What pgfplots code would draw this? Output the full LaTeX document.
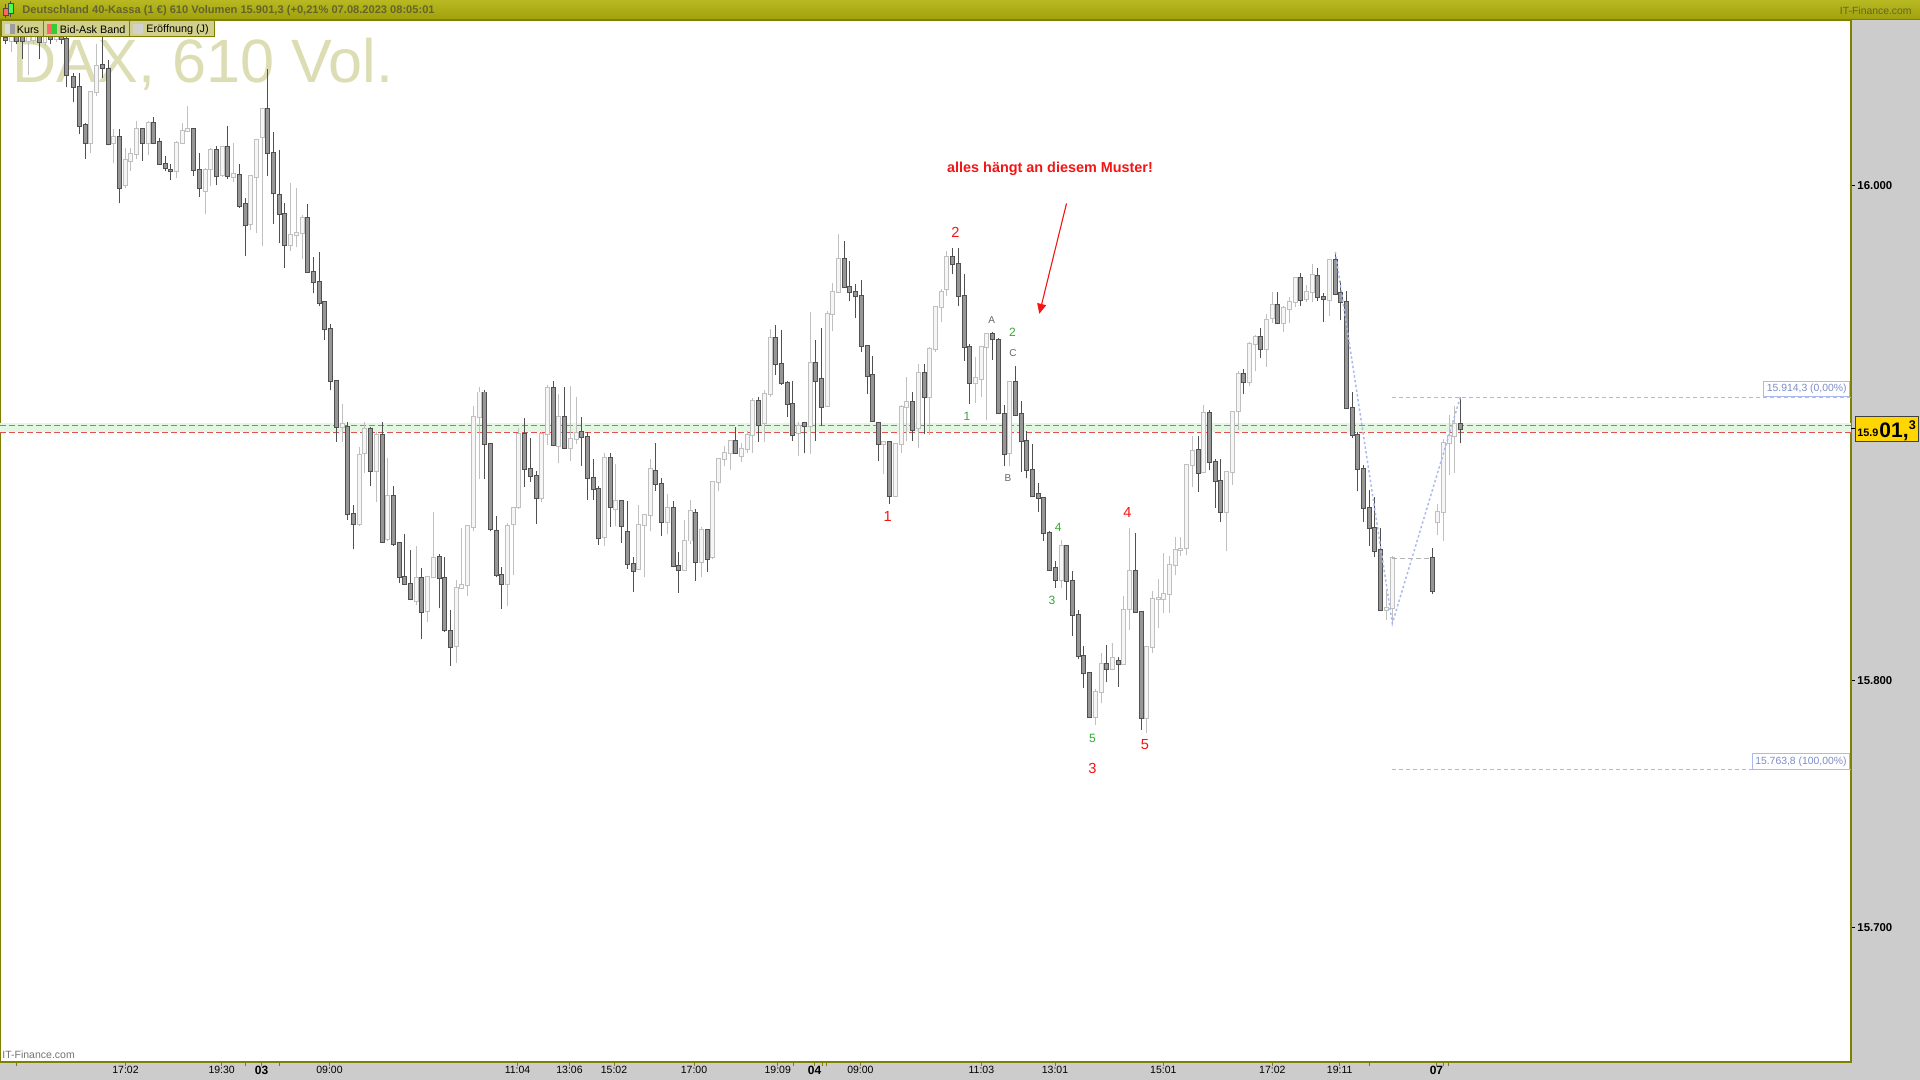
\documentclass[border=0pt]{standalone}
\usepackage{fontspec}
\setmainfont{Liberation Sans}
\usepackage{pgfplots}
\pgfplotsset{compat=1.18}
\usepackage{pgfplotstable}
\usetikzlibrary{arrows.meta}

\definecolor{titletop}{RGB}{184,184,34}
\definecolor{titlebot}{RGB}{160,160,10}
\definecolor{oliveline}{RGB}{128,128,0}
\definecolor{titletext}{RGB}{100,100,45}
\definecolor{tabfill}{RGB}{208,208,140}
\definecolor{panelgray}{RGB}{204,204,204}
\definecolor{wmark}{RGB}{221,221,180}
\definecolor{dnfill}{RGB}{150,150,150}
\definecolor{dnline}{RGB}{80,80,80}
\definecolor{upfill}{RGB}{246,246,246}
\definecolor{upline}{RGB}{192,192,192}
\definecolor{fibo}{RGB}{170,185,240}
\definecolor{fibotext}{RGB}{125,140,200}
\definecolor{askgreen}{RGB}{60,190,60}
\definecolor{bidred}{RGB}{225,80,80}
\definecolor{bandgreen}{RGB}{226,246,226}
\definecolor{lblgreen}{RGB}{50,170,50}
\definecolor{lblred}{RGB}{245,20,20}
\definecolor{pricebox}{RGB}{255,214,0}

\newcommand{\fs}[1]{\fontsize{#1}{#1}\selectfont}

\pgfplotsset{
  candlepart/.style n args={2}{only marks, mark=*, mark size=0pt,
    mark options={draw=none, fill=none}, forget plot,
    error bars/.cd, y dir=plus, y explicit, error mark=none,
    error bar style={draw=#1, line width=#2, solid}},
}

% x = bar position, o/h/l/c = open, high, low, close
\pgfplotstableread{
x o h l c
5.3 16059.5 16061 16057 16058.5
16.7 16060 16062 16057 16058.2
22.3 16060 16061 16050.9 16058.2
39.3 16062 16063 16050.9 16058
50.7 16062 16064 16057 16059
61.7 16063 16065 16057 16059
66.7 16059.0 16060.0 16039.5 16044.6
73.3 16043.7 16045.4 16033.5 16039.5
79.3 16039.5 16045.4 16020.8 16023.7
85.3 16024.2 16025.1 16010.6 16016.9
102.3 16048.5 16059.9 16043.4 16047.5
108.3 16047.1 16050.5 16016.0 16016.4
119.3 16019.3 16022.8 15992.6 15999.0
142.3 16022.8 16022.8 16009.9 16017.2
153.3 16025.1 16027.6 16016.4 16017.1
159.3 16017.4 16019.1 16008.1 16008.6
165.3 16008.6 16011.8 16005.8 16006.9
170.7 16006.2 16008.6 16002.1 16005.8
193.3 16022.5 16023.0 16003.8 16006.0
199.3 16006.0 16013.1 15995.3 15998.7
216.3 16014.0 16015.7 15999.9 16003.6
227.3 16015.4 16023.7 16002.4 16003.6
239.3 16004.0 16008.4 15990.7 15991.5
245.3 15992.2 15994.9 15971.2 15983.7
267.3 16030.7 16047.1 16003.5 16013.1
273.3 16013.1 16021.6 15984.2 15996.7
279.3 15995.8 16014.0 15976.6 15988.5
284.3 15988.5 15992.7 15966.7 15975.7
307.3 15986.6 15992.4 15964.7 15964.7
313.3 15964.7 15971.0 15956.2 15960.8
319.3 15960.8 15973.0 15951.1 15952.3
324.3 15952.6 15952.6 15937.5 15941.7
330.3 15941.7 15944.0 15917.1 15921.0
336.3 15921.0 15921.0 15896.4 15902.3
347.3 15902.3 15904.4 15864.7 15867.0
353.3 15867.0 15870.9 15852.8 15863.0
370.3 15901.5 15902.3 15878.5 15884.5
382.3 15898.9 15904.4 15855.4 15855.9
393.3 15874.3 15878.3 15854.2 15855.0
399.3 15855.4 15855.9 15839.2 15841.5
404.3 15841.5 15858.9 15838.9 15838.9
410.3 15838.9 15852.5 15832.6 15832.6
421.3 15841.1 15845.4 15816.5 15827.5
439.3 15849.6 15850.8 15829.0 15841.1
444.3 15841.1 15849.6 15819.4 15820.2
450.3 15819.9 15828.4 15805.7 15813.4
484.3 15916.2 15917.4 15881.1 15895.3
490.3 15895.3 15895.3 15860.1 15861.0
496.3 15860.1 15866.4 15841.5 15842.3
501.3 15842.3 15845.7 15828.7 15838.9
524.3 15899.6 15906.0 15878.0 15885.3
530.3 15885.3 15897.9 15880.2 15882.6
536.3 15882.6 15884.5 15863.0 15873.4
553.3 15917.9 15920.8 15894.5 15895.0
564.3 15906.4 15918.3 15893.3 15893.8
581.3 15900.1 15906.4 15886.5 15898.4
587.3 15898.1 15900.1 15872.6 15881.7
593.3 15881.7 15889.4 15872.6 15877.2
598.3 15877.2 15878.3 15854.5 15857.3
610.3 15889.6 15891.6 15861.9 15869.8
621.3 15872.4 15872.4 15855.5 15862.2
627.3 15859.8 15872.4 15844.9 15846.9
633.3 15846.9 15849.6 15835.5 15844.0
655.3 15884.5 15895.8 15876.6 15879.2
661.3 15879.2 15881.7 15858.4 15863.9
673.3 15869.5 15872.4 15845.7 15846.0
678.3 15846.0 15851.6 15835.2 15844.5
695.3 15867.4 15869.0 15840.1 15847.9
707.3 15860.5 15861.0 15843.5 15849.1
735.3 15896.7 15902.3 15891.6 15891.6
758.3 15912.8 15914.2 15896.4 15903.0
775.3 15938.3 15943.4 15923.4 15927.6
781.3 15927.6 15941.4 15919.3 15920.0
787.3 15920.2 15920.8 15906.5 15911.5
792.3 15911.5 15920.8 15896.7 15898.9
804.3 15903.8 15903.8 15891.6 15902.6
815.3 15928.1 15937.5 15896.7 15921.0
821.3 15921.7 15942.3 15902.6 15910.3
844.3 15970.1 15977.4 15958.7 15958.7
849.3 15958.7 15969.5 15953.1 15957.0
855.3 15957.0 15959.9 15946.5 15955.0
861.3 15955.0 15961.6 15932.7 15934.9
867.3 15934.9 15934.9 15915.7 15923.0
872.3 15923.4 15931.0 15904.7 15904.7
878.3 15904.0 15904.4 15888.5 15895.3
889.3 15896.1 15896.7 15871.2 15874.3
912.3 15912.3 15916.2 15896.7 15901.0
924.3 15924.2 15927.6 15899.3 15914.2
952.3 15971.0 15974.6 15963.9 15968.1
958.3 15968.1 15974.6 15951.1 15955.0
964.3 15955.0 15963.9 15929.0 15934.4
969.3 15934.4 15935.8 15911.5 15920.0
992.3 15939.7 15940.6 15929.3 15937.8
998.3 15937.5 15938.3 15907.4 15908.1
1004.3 15907.7 15911.1 15886.5 15891.3
1015.3 15920.3 15927.1 15907.0 15907.3
1021.3 15907.5 15912.9 15884.1 15896.5
1026.3 15896.5 15900.6 15881.5 15884.9
1032.3 15884.9 15895.4 15873.9 15874.4
1038.3 15875.0 15879.5 15867.9 15873.5
1043.3 15873.5 15873.5 15856.3 15859.4
1049.3 15859.4 15860.3 15844.1 15844.6
1055.3 15845.3 15848.0 15837.3 15840.4
1066.3 15854.3 15854.3 15832.2 15839.9
1072.3 15839.9 15844.1 15817.8 15826.3
1078.3 15826.3 15828.3 15808.4 15809.6
1083.3 15809.6 15813.9 15796.9 15802.8
1089.3 15802.8 15803.3 15784.6 15785.1
1106.3 15806.4 15814.0 15799.1 15804.5
1118.3 15807.6 15809.3 15797.4 15806.4
1135.3 15844.1 15859.4 15827.6 15827.6
1141.3 15827.4 15827.9 15779.9 15784.6
1198.3 15893.1 15898.8 15876.1 15883.7
1209.3 15907.9 15909.0 15884.9 15888.3
1215.3 15888.3 15889.2 15869.6 15880.3
1220.3 15880.6 15889.2 15863.7 15867.9
1243.3 15923.5 15925.7 15915.5 15920.3
1260.3 15938.5 15942.2 15930.3 15933.7
1277.3 15951.7 15956.8 15944.4 15944.4
1300.3 15962.3 15964.5 15951.2 15953.5
1317.3 15963.4 15966.5 15953.3 15954.6
1323.3 15954.6 15956.3 15944.8 15953.9
1335.3 15969.6 15973.0 15955.5 15956.0
1340.3 15956.3 15961.1 15945.3 15952.6
1346.3 15952.6 15957.1 15909.6 15909.9
1352.3 15909.9 15916.4 15898.0 15899.0
1357.3 15899.0 15900.2 15876.4 15885.4
1363.3 15885.4 15886.9 15863.7 15869.6
1369.3 15869.6 15876.7 15854.3 15861.6
1374.3 15861.4 15873.9 15849.7 15852.1
1380.3 15852.6 15861.4 15828.3 15828.3
1432.3 15849.2 15853.5 15834.8 15835.9
1460.3 15903.6 15914.3 15895.6 15901.3
}\dn

\pgfplotstableread{
x o h l c
11.3 16058.2 16061 16053.6 16060
28.3 16058.2 16061 16044.6 16060
33.3 16058.5 16062 16057 16061
45.0 16058 16064 16056 16062
56.3 16059 16065 16058 16063
90.3 16016.9 16037.8 16013.1 16037.8
96.3 16037.8 16057.0 16035.8 16048.0
113.3 16016.9 16022.5 16008.9 16019.6
125.3 15999.9 16014.8 15999.0 16010.1
130.3 16009.9 16014.8 16005.8 16012.5
136.3 16012.5 16025.9 16010.6 16022.5
148.3 16017.2 16025.9 16012.3 16025.1
176.3 16005.5 16017.9 16002.9 16017.1
182.3 16016.9 16025.1 16016.9 16021.7
187.3 16021.7 16031.8 16021.7 16022.7
205.3 15997.8 16006.9 15988.2 16006.0
210.3 16006.5 16014.8 15999.5 16014.0
222.3 16004.0 16015.7 16003.3 16015.4
233.3 16003.3 16016.9 16001.2 16004.3
250.3 15984.2 16003.8 15982.0 16003.5
256.3 16003.3 16018.2 15980.5 16018.2
262.3 16019.4 16030.7 15975.2 16030.7
290.3 15975.7 16000.9 15973.5 15979.7
296.3 15979.7 15998.7 15974.9 15980.5
302.3 15980.5 15988.0 15970.3 15986.6
342.3 15902.3 15911.7 15896.4 15903.5
359.3 15863.0 15894.2 15862.2 15891.1
364.3 15891.6 15904.4 15883.6 15901.5
376.3 15884.5 15900.1 15872.0 15898.9
387.3 15857.1 15889.6 15856.2 15874.3
416.3 15831.8 15854.2 15830.4 15841.1
427.3 15827.9 15841.5 15823.6 15841.5
433.3 15841.5 15867.8 15841.5 15849.4
456.3 15813.7 15840.6 15807.1 15837.2
461.3 15837.2 15861.5 15837.2 15838.4
467.3 15838.4 15862.2 15834.1 15862.2
473.3 15861.9 15910.8 15860.1 15906.4
479.3 15906.4 15918.5 15881.4 15916.2
507.3 15838.9 15863.5 15829.9 15862.2
513.3 15863.0 15869.8 15842.6 15869.5
518.3 15869.8 15901.8 15869.0 15899.3
541.3 15873.4 15900.1 15872.0 15899.3
547.3 15899.3 15919.1 15895.0 15917.9
558.3 15894.5 15915.4 15887.7 15906.4
570.3 15893.8 15918.8 15888.7 15897.5
576.3 15897.5 15914.5 15895.5 15899.8
604.3 15857.9 15891.6 15854.2 15889.6
615.3 15869.0 15887.4 15862.2 15872.4
638.3 15844.9 15870.9 15844.9 15862.7
644.3 15862.7 15867.0 15841.5 15866.6
650.3 15866.6 15889.4 15860.1 15885.3
667.3 15863.9 15875.1 15858.9 15869.5
684.3 15844.5 15864.7 15844.5 15856.4
690.3 15856.4 15872.9 15855.0 15868.3
701.3 15847.9 15861.9 15841.5 15860.5
712.3 15849.6 15880.0 15848.8 15880.0
718.3 15880.0 15889.9 15876.3 15889.4
724.3 15889.4 15894.7 15886.5 15891.6
730.3 15891.6 15896.7 15884.8 15896.7
741.3 15890.4 15895.8 15888.2 15893.3
747.3 15893.3 15900.6 15891.6 15898.9
752.3 15898.9 15914.0 15891.9 15912.8
764.3 15903.8 15917.1 15896.4 15915.7
770.3 15915.7 15941.7 15914.5 15938.3
798.3 15899.8 15904.4 15890.4 15902.6
810.3 15902.6 15948.9 15891.3 15928.1
827.3 15910.8 15949.0 15910.8 15948.0
832.3 15948.0 15960.4 15940.9 15957.0
838.3 15957.0 15980.3 15956.2 15970.1
883.3 15895.3 15896.1 15883.1 15896.1
895.3 15874.3 15895.3 15874.3 15895.3
901.3 15895.3 15911.1 15891.9 15910.3
906.3 15910.3 15922.5 15896.7 15912.3
918.3 15901.8 15927.6 15893.6 15924.2
929.3 15914.2 15934.4 15898.9 15933.6
935.3 15933.6 15951.1 15932.4 15950.6
941.3 15950.6 15958.2 15944.6 15957.0
946.3 15957.9 15973.2 15955.0 15971.0
975.3 15920.0 15930.7 15912.0 15921.9
981.3 15921.7 15934.9 15914.2 15934.4
986.3 15934.4 15940.0 15904.9 15939.7
1009.3 15891.6 15920.8 15886.5 15920.5
1061.3 15840.4 15856.8 15837.3 15854.3
1095.3 15785.1 15796.5 15781.7 15795.1
1101.3 15795.1 15811.0 15790.6 15806.4
1112.3 15804.5 15814.9 15804.2 15808.9
1123.3 15806.4 15833.9 15806.4 15828.5
1129.3 15828.8 15861.6 15820.3 15844.1
1146.3 15784.6 15813.5 15778.7 15813.5
1152.3 15813.5 15835.9 15811.0 15832.7
1158.3 15832.7 15840.7 15821.2 15833.0
1163.3 15832.7 15851.2 15827.1 15834.8
1169.3 15834.8 15850.0 15827.1 15846.7
1175.3 15846.7 15858.0 15842.4 15852.6
1180.3 15852.6 15858.0 15850.1 15853.0
1186.3 15853.5 15887.5 15850.4 15886.9
1192.3 15886.9 15898.5 15878.1 15892.5
1203.3 15884.1 15911.3 15884.1 15907.9
1226.3 15867.9 15884.4 15852.1 15884.1
1232.3 15884.1 15908.7 15878.9 15908.4
1238.3 15908.7 15924.9 15901.1 15923.5
1249.3 15920.3 15936.8 15918.9 15935.6
1255.3 15935.6 15939.3 15924.9 15938.5
1266.3 15933.7 15948.1 15926.6 15945.3
1272.3 15946.1 15956.8 15944.4 15951.7
1283.3 15944.4 15951.2 15940.7 15950.4
1289.3 15949.9 15954.6 15944.4 15952.6
1295.3 15952.6 15962.3 15950.9 15962.3
1306.3 15953.8 15959.7 15952.9 15956.7
1312.3 15956.7 15968.2 15952.9 15963.8
1329.3 15953.4 15969.6 15947.3 15969.6
1386.3 15828.3 15836.4 15824.2 15829.3
1392.3 15829.1 15850.1 15822.9 15849.2
1437.3 15863.7 15871.3 15858.6 15867.9
1443.3 15867.9 15897.6 15856.3 15895.6
1449.3 15895.6 15907.3 15882.9 15898.5
1454.3 15898.5 15910.7 15883.6 15903.6
}\up

\begin{document}
\begin{tikzpicture}
% ---------- background chrome (image pixel coordinates, y down) ----------
\begin{scope}[x=0.5pt,y=-0.5pt]
  \fill[panelgray] (0,0) rectangle (1920,1080);
  \fill[white] (0,20) rectangle (1851,1062);
  \node[text=wmark, anchor=base west, inner sep=0pt, font=\fs{30.6pt}] at (12,83) {DAX, 610 Vol.};
  \node[text=black!55, anchor=base west, inner sep=0pt, font=\fs{5.25pt}] at (2,1058) {IT-Finance.com};
\end{scope}

\begin{axis}[
  at={(0pt,-531pt)}, anchor=south west,
  scale only axis, width=925.5pt, height=521pt,
  xmin=0, xmax=1851, ymin=15645.7, ymax=16066.7,
  axis line style={draw=oliveline, line width=0.6pt},
  xtick={16.5,125.5,221.7,245,261.5,279,329.5,517.5,569.5,614,694,777.7,793,814.5,822,826.7,860.4,981.4,1055,1163.3,1272.3,1339.7,1369,1436.4,1443.8,1448.7},
  xticklabels={,17:02,19:30,,\textbf{\fs{6pt}03},,09:00,11:04,13:06,15:02,17:00,19:09,,\textbf{\fs{6pt}04},,,09:00,11:03,13:01,15:01,17:02,19:11,,\textbf{\fs{6pt}07},,},
  ytick={15700,15800,16000},
  yticklabels={15.700,15.800,16.000},
  xtick pos=left, ytick pos=right, yticklabel pos=right,
  tick align=outside, major tick length=2pt,
  x tick style={draw=oliveline, line width=0.5pt},
  y tick style={draw=black, line width=0.5pt},
  xticklabel style={font=\fs{5.25pt}, inner sep=0pt, text=black},
  yticklabel style={font=\bfseries\fs{5.7pt}, inner sep=1pt, anchor=west, text=black},
]
% bid/ask band
\fill[bandgreen] (axis cs:0,15900.1) rectangle (axis cs:1851,15903.7);
\addplot[askgreen, line width=0.5pt, dash pattern=on 3pt off 1.5pt, forget plot] coordinates {(0,15902.7) (1851,15902.7)};
\addplot[bidred, line width=0.4pt, dash pattern=on 3pt off 1.5pt, forget plot] coordinates {(0,15900.1) (1851,15900.1)};

% ---- wicks ----
\addplot[candlepart={upline}{0.5pt}] table[x=x, y=l, y error plus expr=\thisrow{h}-\thisrow{l}]{\up};
\addplot[candlepart={dnline}{0.5pt}] table[x=x, y=l, y error plus expr=\thisrow{h}-\thisrow{l}]{\dn};
% ---- bodies: outline ----
\addplot[candlepart={upline}{2.4pt}] table[x=x, y expr=\thisrow{o}-0.4, y error plus expr=\thisrow{c}-\thisrow{o}+0.8]{\up};
\addplot[candlepart={dnline}{2.4pt}] table[x=x, y expr=\thisrow{c}-0.4, y error plus expr=\thisrow{o}-\thisrow{c}+0.8]{\dn};
% ---- bodies: fill ----
\addplot[candlepart={upfill}{1.4pt}] table[x=x, y=o, y error plus expr=\thisrow{c}-\thisrow{o}]{\up};
\addplot[candlepart={dnfill}{1.4pt}] table[x=x, y=c, y error plus expr=\thisrow{o}-\thisrow{c}]{\dn};

% Eroeffnung gap line
\addplot[black!30, line width=0.5pt, dash pattern=on 2.5pt off 1.5pt, forget plot] coordinates {(1392.3,15849.2) (1432.3,15849.2)};
% fibonacci lines
\addplot[fibo, line width=0.5pt, dash pattern=on 2pt off 1.5pt, forget plot] coordinates {(1392,15914.3) (1851,15914.3)};
\addplot[fibo, line width=0.5pt, dash pattern=on 2pt off 1.5pt, forget plot] coordinates {(1392,15763.8) (1851,15763.8)};
\addplot[fibo, line width=0.75pt, dash pattern=on 1.2pt off 1.2pt, forget plot] coordinates {(1335.3,15973.0) (1392.3,15822.9) (1460.3,15914.3)};
\node[draw=fibo, fill=white, text=fibotext, font=\fs{5.2pt}, inner xsep=1.5pt, inner ysep=1.5pt, anchor=south east, line width=0.4pt] at (axis cs:1850,15914.3) {15.914,3 (0,00\%)};
\node[draw=fibo, fill=white, text=fibotext, font=\fs{5.2pt}, inner xsep=1.5pt, inner ysep=1.5pt, anchor=south east, line width=0.4pt] at (axis cs:1850,15763.8) {15.763,8 (100,00\%)};

% annotations
\node[text=lblred, font=\bfseries\fs{7.2pt}] at (axis cs:1050,16006.7) {alles hängt an diesem Muster!};
\draw[lblred, line width=0.55pt, -{Triangle[length=5pt,width=4.5pt]}] (axis cs:1066.5,15992.6) -- (axis cs:1039.3,15948.0);
\node[text=lblred, font=\fs{7.3pt}] at (axis cs:955.5,15980.7) {2};
\node[text=lblred, font=\fs{7.3pt}] at (axis cs:887.7,15866.0) {1};
\node[text=lblred, font=\fs{7.3pt}] at (axis cs:1092.5,15764.1) {3};
\node[text=lblred, font=\fs{7.3pt}] at (axis cs:1127.5,15867.9) {4};
\node[text=lblred, font=\fs{7.3pt}] at (axis cs:1144.8,15774.1) {5};
\node[text=lblgreen, font=\fs{6pt}] at (axis cs:967,15906.4) {1};
\node[text=lblgreen, font=\fs{6pt}] at (axis cs:1012.5,15940.7) {2};
\node[text=lblgreen, font=\fs{6pt}] at (axis cs:1052,15832.4) {3};
\node[text=lblgreen, font=\fs{6pt}] at (axis cs:1058.2,15861.8) {4};
\node[text=lblgreen, font=\fs{6pt}] at (axis cs:1092.5,15776.6) {5};
\node[text=black!60, font=\fs{5pt}] at (axis cs:991.6,15945.3) {A};
\node[text=black!60, font=\fs{5pt}] at (axis cs:1008,15881.8) {B};
\node[text=black!60, font=\fs{5pt}] at (axis cs:1013,15932.3) {C};
\end{axis}

% ---------- foreground chrome ----------
\begin{scope}[x=0.5pt,y=-0.5pt]
  % title bar
  \shade[top color=titletop, bottom color=titlebot] (0,0) rectangle (1920,20);
  \draw[oliveline, line width=0.6pt] (0,19.7) -- (1920,19.7);
  \draw[black!70, line width=0.4pt] (5.5,4) -- (5.5,18);
  \filldraw[fill=red!60, draw=black!70, line width=0.4pt] (3,8) rectangle (8,15);
  \draw[black!70, line width=0.4pt] (10.5,1) -- (10.5,17);
  \filldraw[fill=green!70, draw=black!70, line width=0.4pt] (8.5,3) rectangle (13,13);
  \node[anchor=west, inner sep=0pt, text=titletext, font=\bfseries\fs{5.55pt}] at (22,10.5) {Deutschland 40-Kassa (1 €) 610 Volumen 15.901,3 (+0,21\% 07.08.2023 08:05:01};
  \node[anchor=east, inner sep=0pt, text=titletext, font=\fs{5.2pt}] at (1912,11) {IT-Finance.com};
  % legend tabs
  \filldraw[fill=tabfill, draw=oliveline, line width=0.5pt] (1,21) rectangle (43,37);
  \filldraw[fill=tabfill, draw=oliveline, line width=0.5pt] (43,21) rectangle (129.5,37);
  \filldraw[fill=tabfill, draw=oliveline, line width=0.5pt] (129.5,21) rectangle (214,37);
  \fill[black!14] (5,24) rectangle (10,34);
  \fill[black!38] (10,24) rectangle (15,34);
  \node[anchor=west, inner sep=0pt, font=\fs{5.4pt}] at (16.5,29.5) {Kurs};
  \fill[red!60] (47,24) rectangle (52,34);
  \fill[green!75!black!80] (52,24) rectangle (57,34);
  \node[anchor=west, inner sep=0pt, font=\fs{5.4pt}] at (59.5,29.5) {Bid-Ask Band};
  \fill[black!18] (133,24) rectangle (143,34);
  \node[anchor=west, inner sep=0pt, font=\fs{5.4pt}] at (146,29.5) {Eröffnung (J)};
  % current price box
  \draw[black, line width=0.5pt] (1851,428.3) -- (1856,428.3);
  \filldraw[fill=pricebox, draw=black!75, line width=0.5pt] (1855,416) rectangle (1918,441);
  \node[anchor=base west, inner sep=0pt, font=\bfseries\fs{5.4pt}] at (1857,436.5) {15.9};
  \node[anchor=base west, inner sep=0pt, font=\bfseries\fs{10.5pt}] at (1879,437) {01,};
  \node[anchor=base west, inner sep=0pt, font=\bfseries\fs{6.3pt}] at (1908.5,429) {3};
\end{scope}
\pgfresetboundingbox
\path (0pt,0pt) rectangle (960pt,-540pt);
\end{tikzpicture}
\end{document}
